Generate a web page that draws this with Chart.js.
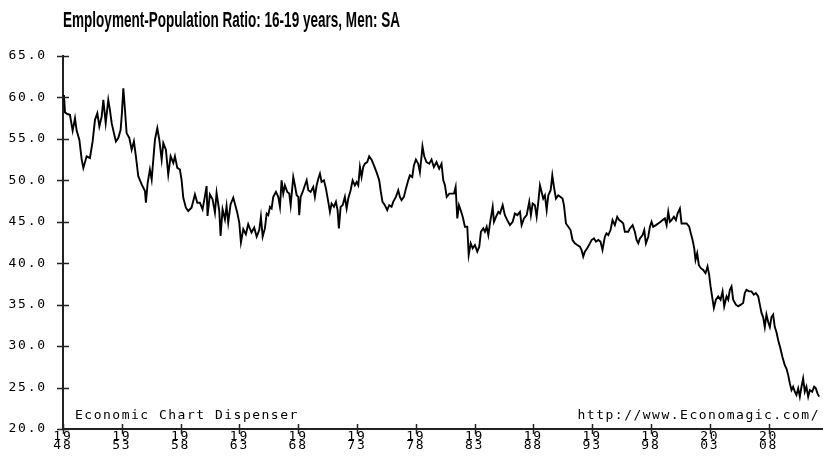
<!DOCTYPE html>
<html><head><meta charset="utf-8">
<script src="https://cdn.jsdelivr.net/npm/chart.js@4/dist/chart.umd.min.js"></script>
<style>html,body{margin:0;padding:0;background:#fff;}#wrap{width:823px;height:466px;}</style>
</head><body><div id="wrap"><canvas id="c" width="823" height="466"></canvas></div>
<script>
const titleText = 'Employment-Population Ratio: 16-19 years, Men: SA';
const leftNote = 'Economic Chart Dispenser';
const rightNote = 'http://www.Economagic.com/';
const xTickYears = [1948,1953,1958,1963,1968,1973,1978,1983,1988,1993,1998,2003,2008];
const yTickValues = [20,25,30,35,40,45,50,55,60,65];

const years = [
1948.00,1948.08,1948.17,1948.37,1948.59,1948.82,1949.02,1949.16,1949.39,1949.59,1949.73,1950.01,1950.29,1950.52,1950.72,1950.92,
1951.09,1951.29,1951.43,1951.63,1951.85,1951.99,1952.14,1952.33,1952.50,1952.70,1952.90,1953.01,1953.13,1953.27,1953.41,1953.64,
1953.84,1954.03,1954.20,1954.40,1954.69,1954.97,1955.05,1955.20,1955.39,1955.54,1955.68,1955.82,1956.02,1956.19,1956.39,1956.53,
1956.75,1956.95,1957.15,1957.38,1957.52,1957.72,1957.94,1958.08,1958.23,1958.45,1958.65,1958.93,1959.22,1959.42,1959.64,1959.87,
1960.07,1960.21,1960.29,1960.49,1960.72,1960.92,1961.06,1961.29,1961.40,1961.57,1961.77,1961.91,1962.05,1962.25,1962.48,1962.67,
1962.82,1962.99,1963.13,1963.33,1963.55,1963.75,1964.03,1964.26,
1964.47,1964.69,1964.83,1964.98,1965.17,1965.32,1965.46,1965.60,1965.74,1965.88,1966.11,1966.31,1966.45,1966.59,1966.73,1966.87,
1967.07,1967.24,1967.36,1967.58,1967.72,1967.87,1968.01,1968.09,1968.21,1968.38,1968.57,1968.72,1968.86,1969.06,1969.28,1969.42,
1969.57,1969.71,1969.85,1969.99,1970.19,1970.36,1970.56,1970.70,1970.84,1971.04,1971.21,1971.35,1971.46,1971.61,1971.78,1971.97,
1972.12,1972.26,1972.46,1972.63,1972.82,1972.97,1973.11,1973.25,1973.39,1973.53,1973.67,1973.87,1974.04,1974.24,1974.44,1974.66,
1974.89,1975.03,1975.17,1975.37,1975.57,1975.74,1975.94,1976.08,1976.31,1976.51,1976.65,1976.79,1976.99,1977.16,1977.36,1977.50,
1977.70,1977.84,1978.01,1978.21,1978.35,1978.49,1978.57,1978.72,1978.91,1979.14,1979.34,1979.54,1979.76,1979.99,1980.19,
1980.34,1980.48,1980.63,1980.85,1981.05,1981.25,1981.39,1981.53,1981.67,1981.82,1981.99,1982.18,1982.38,1982.50,1982.67,1982.84,
1983.03,1983.23,1983.40,1983.54,1983.74,1983.88,1984.03,1984.17,1984.31,1984.54,1984.65,1984.82,1985.02,1985.16,1985.39,1985.58,
1985.78,1986.01,1986.24,1986.43,1986.63,1986.86,1987.00,1987.20,1987.43,1987.65,1987.79,1987.94,1988.13,1988.28,1988.42,1988.56,
1988.70,1988.84,1988.98,1989.13,1989.27,1989.47,1989.61,1989.75,1989.92,1990.12,1990.31,1990.48,1990.60,1990.77,1990.97,1991.16,
1991.33,1991.53,1991.73,1991.96,1992.10,1992.24,1992.38,1992.58,1992.81,1992.95,1993.15,1993.32,1993.52,1993.71,1993.88,1994.08,
1994.22,1994.37,1994.56,1994.73,1994.93,1995.13,1995.30,1995.50,1995.64,1995.78,1996.07,
1996.21,1996.44,1996.63,1996.78,1996.92,1997.06,1997.29,1997.43,1997.57,1997.77,1997.91,1998.05,1998.19,1998.42,1998.62,1998.82,
1998.99,1999.18,1999.33,1999.47,1999.61,1999.75,1999.95,2000.12,2000.26,2000.46,2000.60,2000.80,2001.03,2001.25,2001.39,2001.54,
2001.68,2001.79,2001.93,2002.07,2002.24,2002.44,2002.64,2002.81,2002.95,2003.07,2003.24,2003.35,2003.52,2003.72,2003.92,2004.09,
2004.23,2004.43,2004.57,2004.71,2004.85,2004.99,2005.22,2005.42,2005.64,2005.84,2005.98,2006.12,2006.35,2006.55,2006.75,2006.92,
2007.12,2007.26,2007.40,2007.54,2007.68,2007.82,2007.97,2008.11,2008.25,2008.39,2008.53,2008.67,2008.82,2009.01,2009.18,2009.38,
2009.52,2009.67,2009.81,2009.95,2010.09,2010.23,2010.37,2010.52,2010.66,2010.80,2010.94,2011.08,2011.22,2011.37,2011.51,2011.71,
2011.88,2012.02,2012.16,2012.30
];

const ratio = [
60.0,60.3,58.2,58.0,57.9,56.0,57.5,56.0,54.9,52.5,51.5,52.9,52.7,54.7,57.3,58.1,
56.5,57.7,59.7,56.9,59.7,58.5,56.9,55.7,54.7,55.1,56.1,58.1,61.1,58.5,55.7,55.1,
53.7,54.7,52.9,50.5,49.5,48.7,47.3,49.7,51.3,50.1,52.5,54.9,56.3,54.9,52.5,54.5,
53.7,50.7,52.9,52.1,52.9,51.5,51.3,50.1,47.9,46.7,46.3,46.7,48.3,47.3,47.3,46.5,
48.1,49.3,45.7,48.3,47.7,46.1,48.5,46.3,43.3,46.5,45.3,46.9,44.9,47.1,47.9,46.9,
46.1,44.9,42.5,44.1,43.5,44.7,43.7,44.3,
43.2,44.0,45.6,43.2,44.2,46.0,45.8,46.8,46.6,48.0,48.6,48.0,46.8,50.0,48.4,49.4,
48.6,48.4,47.0,50.4,49.4,48.2,48.0,45.8,48.0,48.6,49.4,50.0,48.8,48.6,49.2,48.0,
49.4,50.2,50.8,49.8,50.0,49.0,47.4,46.2,47.2,46.8,47.4,46.4,44.2,46.8,47.0,48.0,
46.6,47.8,48.8,50.0,49.4,49.8,49.4,51.6,50.4,51.6,52.0,52.2,52.9,52.5,51.8,51.0,
50.0,48.6,47.4,47.0,46.4,47.0,46.8,47.4,48.0,48.8,48.0,47.6,48.0,49.0,50.0,50.6,
50.4,51.8,52.5,52.0,51.0,52.9,54.1,52.9,52.2,52.0,52.5,51.6,52.2,51.4,52.0,
50.0,49.4,48.0,48.4,48.4,48.4,49.2,45.4,47.0,46.4,45.6,44.4,44.4,41.0,42.4,41.8,
42.2,41.4,42.0,43.8,44.2,43.8,44.4,43.4,44.8,46.8,45.0,45.6,46.2,46.0,47.0,45.8,
45.2,44.6,45.0,46.0,45.8,46.2,44.6,45.4,45.8,47.4,45.8,47.2,47.0,45.6,47.4,49.4,
48.6,47.8,48.2,46.4,48.2,48.8,50.6,49.2,47.8,48.2,48.0,47.8,47.0,44.8,44.4,44.0,
42.8,42.4,42.2,42.0,41.6,40.8,41.4,41.8,42.4,42.8,43.0,42.6,42.8,42.6,41.6,43.2,
43.6,43.4,44.0,45.2,44.6,45.6,45.2,45.0,44.8,43.8,43.8,
44.2,44.6,43.8,42.8,42.4,43.0,43.4,44.0,42.4,43.2,44.4,45.0,44.4,44.6,44.8,45.0,
45.2,45.4,44.6,46.2,45.0,45.2,45.6,45.2,46.0,46.6,44.8,44.8,44.8,44.4,43.6,42.8,
41.8,40.4,41.2,39.8,39.4,39.2,38.8,39.6,38.6,37.2,35.6,34.6,35.6,36.0,35.6,36.6,
34.8,36.0,35.6,36.8,37.2,35.6,35.0,34.8,35.0,35.2,36.4,36.8,36.6,36.6,36.2,36.4,
36.0,35.0,34.0,33.5,32.3,33.8,32.9,32.3,33.5,33.8,32.3,31.7,30.7,29.7,28.7,27.7,
27.3,26.5,25.5,24.7,25.1,24.5,24.1,24.9,23.9,25.1,26.1,24.5,25.1,23.9,24.7,24.5,
25.1,24.9,24.3,23.9
];

const points = years.map((y, i) => ({x: y, y: ratio[i]}));
const monoFont = '"DejaVu Sans Mono", "Liberation Mono", monospace';

const decor = {
  id: 'decor',
  beforeDraw(chart) { chart.ctx.letterSpacing = '1.8px'; },
  afterDraw(chart) {
    const ctx = chart.ctx, xs = chart.scales.x, ys = chart.scales.y;
    ctx.save();
    ctx.strokeStyle = '#222'; ctx.lineWidth = 1.5;
    yTickValues.forEach(v => {
      const py = Math.round(ys.getPixelForValue(v)) + 0.5;
      ctx.beginPath(); ctx.moveTo(xs.left - 6, py); ctx.lineTo(xs.left + 6, py); ctx.stroke();
    });
    xTickYears.forEach(v => {
      const px = Math.round(xs.getPixelForValue(v)) + 0.5;
      ctx.beginPath(); ctx.moveTo(px, ys.bottom - 5); ctx.lineTo(px, ys.bottom + 5); ctx.stroke();
    });
    ctx.fillStyle = '#000';
    ctx.font = '13px ' + monoFont;
    ctx.letterSpacing = '1.5px';
    ctx.textBaseline = 'alphabetic';
    ctx.textAlign = 'left';
    ctx.fillText(leftNote, 75, 419);
    ctx.textAlign = 'right';
    ctx.fillText(rightNote, 820, 419);
    ctx.letterSpacing = '0px';
    ctx.font = 'bold 22px "Liberation Sans Narrow", "Liberation Sans", Arial, sans-serif';
    const w = ctx.measureText(titleText).width;
    ctx.translate(63, 27);
    ctx.scale(337 / w, 1);
    ctx.textAlign = 'left';
    ctx.fillText(titleText, 0, 0);
    ctx.restore();
  }
};

new Chart(document.getElementById('c'), {
  type: 'line',
  data: { datasets: [{
    data: points, borderColor: '#000', borderWidth: 1.9, pointRadius: 0,
    tension: 0, fill: false
  }]},
  options: {
    responsive: false, animation: false, devicePixelRatio: 1,
    layout: { padding: { top: 56, right: 0, bottom: 0, left: 0 } },
    plugins: { legend: { display: false }, title: { display: false }, tooltip: { enabled: false } },
    scales: {
      x: {
        type: 'linear', min: 1948, max: 2012.63,
        afterBuildTicks: s => { s.ticks = xTickYears.map(v => ({ value: v })); },
        afterFit: s => { s.height = 37; },
        grid: { display: false, drawTicks: false },
        border: { display: true, color: '#222', width: 2 },
        ticks: {
          autoSkip: false, maxRotation: 0, minRotation: 0, padding: 3, color: '#000',
          font: { family: monoFont, size: 13, lineHeight: 0.72 },
          callback: v => { const s = String(v); return [s.slice(0, 2), s.slice(2)]; }
        }
      },
      y: {
        min: 20, max: 65,
        afterBuildTicks: s => { s.ticks = yTickValues.map(v => ({ value: v })); },
        afterFit: s => { s.width = 63; },
        grid: { display: false, drawTicks: false },
        border: { display: true, color: '#222', width: 2 },
        ticks: {
          padding: 16, color: '#000',
          font: { family: monoFont, size: 13 },
          callback: v => Number(v).toFixed(1)
        }
      }
    }
  },
  plugins: [decor]
});
</script>
</body></html>
